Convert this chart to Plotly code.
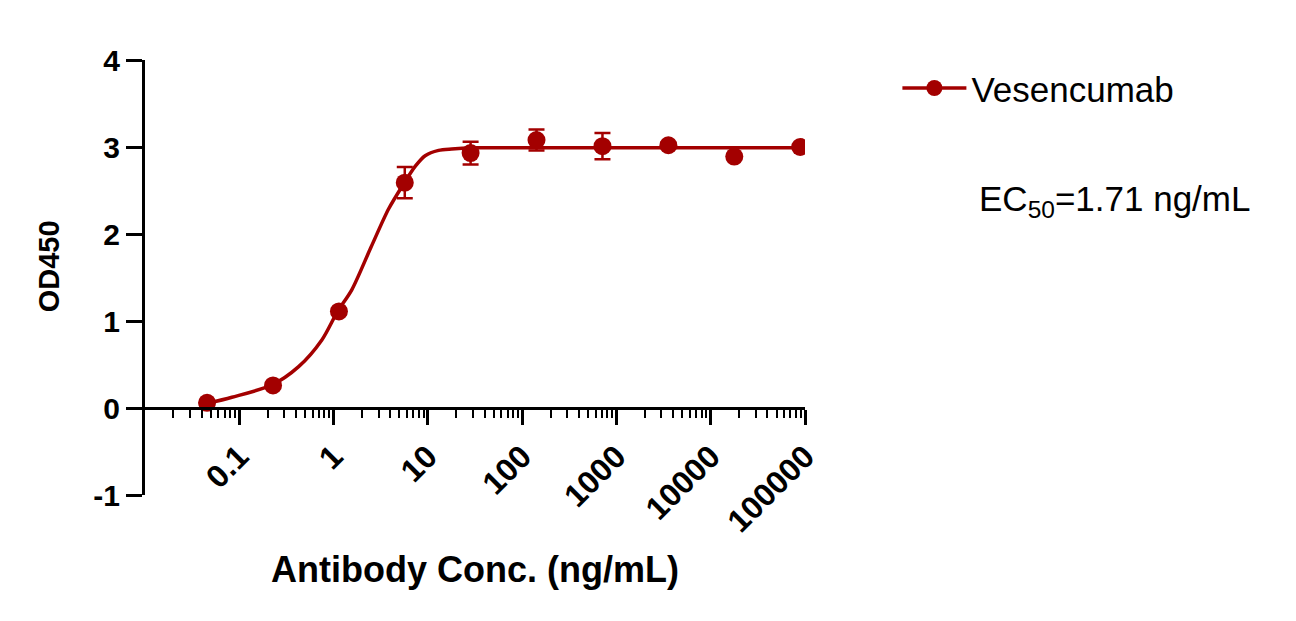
import plotly.graph_objects as go

# Vesencumab binding ELISA, 5-fold dilution series
conc = [0.0455, 0.228, 1.14, 5.69, 28.4, 142, 711, 3556, 17778, 88889]
od450 = [0.06, 0.26, 1.11, 2.59, 2.93, 3.08, 3.01, 3.02, 2.89, 3.00]
od450_sd = [0.01, 0.02, 0.03, 0.18, 0.13, 0.12, 0.15, 0.03, 0.02, 0.02]

# fitted curve
fit_x = [0.0455, 0.0835, 0.222, 0.426, 0.751, 1.10, 1.56, 2.5, 3.83, 5.61, 7.33, 9.36, 13.0, 17.9, 30, 100, 88889]
fit_y = [0.05, 0.123, 0.265, 0.475, 0.782, 1.108, 1.358, 1.85, 2.287, 2.586, 2.777, 2.90, 2.961, 2.977, 2.99, 2.99, 2.99]

x_ticks = [0.1, 1, 10, 100, 1000, 10000, 100000]
x_ticktext = ["0.1", "1", "10", "100", "1000", "10000", "100000"]
y_ticks = [-1, 0, 1, 2, 3, 4]
y_ticktext = ["-1", "0", "1", "2", "3", "4"]

series_name = "Vesencumab"
ec50_text = "EC<sub>50</sub>=1.71 ng/mL"

RED = "#A30000"
FONT = "Arial, Liberation Sans, sans-serif"

minor_ticks = [m * 10 ** e for e in range(-2, 5) for m in range(2, 10)]

fig = go.Figure()

fig.add_trace(go.Scatter(
    x=fit_x, y=fit_y, mode="lines",
    line=dict(color=RED, width=3.5, shape="spline", smoothing=0.8),
    showlegend=False, hoverinfo="skip"))

fig.add_trace(go.Scatter(
    x=conc, y=od450, mode="markers",
    marker=dict(color=RED, size=18),
    error_y=dict(type="data", array=od450_sd, visible=True,
                 color=RED, thickness=2.5, width=8),
    showlegend=False))

# legend entry (line + dot)
fig.add_trace(go.Scatter(
    x=[None], y=[None], mode="lines+markers", name=series_name,
    line=dict(color=RED, width=3.5), marker=dict(color=RED, size=18)))

fig.add_annotation(
    text=ec50_text, xref="paper", yref="paper", x=1.26, y=0.675,
    xanchor="left", yanchor="middle", showarrow=False,
    font=dict(family=FONT, size=35, color="black"))

# y axis title, placed a bit above the middle like the original
fig.add_annotation(
    text="<b>OD450</b>", xref="paper", yref="paper", x=-0.146, y=0.525,
    xanchor="center", yanchor="middle", textangle=-90, showarrow=False,
    font=dict(family=FONT, size=29, color="black"))

fig.update_xaxes(
    type="log", range=[-2, 5],
    showline=True, linewidth=3, linecolor="black",
    ticks="outside", ticklen=15, tickwidth=2.5, tickcolor="black",
    tickvals=x_ticks, ticktext=x_ticktext, tickangle=-45,
    tickfont=dict(family=FONT, size=32, color="black", weight="bold"),
    minor=dict(tickvals=minor_ticks, ticks="outside", ticklen=8,
               tickwidth=2, tickcolor="black", showgrid=False),
    anchor="free", position=0.2,
    showgrid=False, zeroline=False,
    title=dict(text="Antibody Conc. (ng/mL)", standoff=18,
               font=dict(family=FONT, size=36, color="black", weight="bold")))

fig.update_yaxes(
    range=[-1, 4], tickvals=y_ticks, ticktext=y_ticktext,
    showline=True, linewidth=3, linecolor="black",
    ticks="outside", ticklen=16, tickwidth=3, tickcolor="black",
    tickfont=dict(family=FONT, size=30, color="black", weight="bold"),
    showgrid=False, zeroline=False)

fig.update_layout(
    width=1296, height=621, autosize=False,
    margin=dict(l=137, r=499, t=52, b=134),
    plot_bgcolor="white", paper_bgcolor="white",
    legend=dict(x=1.14, y=0.935, xanchor="left", yanchor="middle",
                font=dict(family=FONT, size=35, color="black"),
                itemwidth=64, bgcolor="rgba(0,0,0,0)"),
)

fig.write_html("out.html")
